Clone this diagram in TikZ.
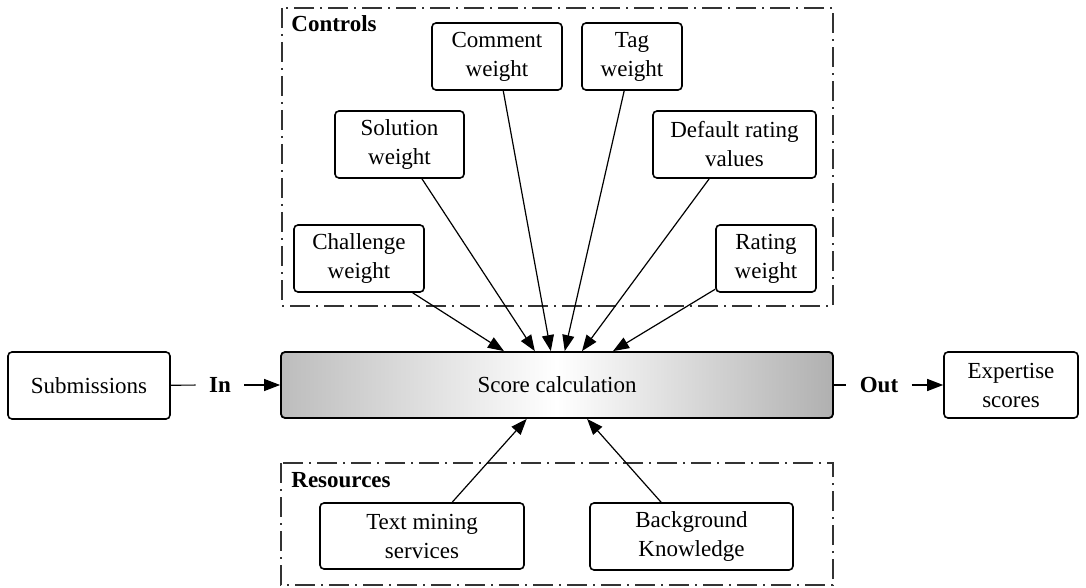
\documentclass[tikz,border=0pt]{standalone}
\usepackage{fontspec}
\setmainfont{Liberation Serif}
\usetikzlibrary{arrows.meta}

\tikzset{
  txt/.style={font=\fontsize{11.5}{14.5}\selectfont},
  box/.style={txt, draw=black, line width=0.8pt, rounded corners=2pt,
    align=center, inner sep=0pt},
  corebox/.style={box, line width=0.9pt, left color=black!26, right color=black!31,
    middle color=white, shading angle=90},
  frame/.style={draw=black!80, line width=0.55pt,
    dash pattern=on 10pt off 3pt on 1pt off 3pt},
  framelabel/.style={txt, font=\fontsize{11.5}{14.5}\selectfont\bfseries, anchor=west, inner sep=0pt},
  flow/.style={draw=black, line width=0.6pt, -{Triangle[length=8pt,width=6pt]}},
  plain/.style={draw=black, line width=0.6pt},
  iolabel/.style={txt, font=\fontsize{11.5}{14.5}\selectfont\bfseries, inner ysep=0pt},
}

\begin{document}
\begin{tikzpicture}[x=0.5pt, y=-0.5pt]
  \useasboundingbox (0,0) rectangle (1086,588);

  % dash-dotted group frames
  \draw[frame] (282,8) rectangle (833,306);
  \draw[frame] (281,463) rectangle (833,585);
  \node[framelabel] (ctrlhead) at (291,24) {Controls};
  \node[framelabel] (reshead) at (291,480) {Resources};

  % central activity
  \node[corebox, minimum width=276pt, minimum height=33pt] (core) at (557,385) {Score calculation};

  % input and output
  \node[box, minimum width=81pt, minimum height=33.5pt] (sub) at (89,385.5) {Submissions};
  \node[box, minimum width=67pt, minimum height=33pt] (exp) at (1011,385) {Expertise\\scores};
  \node[iolabel, inner xsep=6.5pt] (inl) at (220,385) {In};
  \node[iolabel, inner xsep=6.5pt] (outl) at (879,385) {Out};
  \draw[plain] (sub) -- (inl);
  \draw[flow] (inl) -- (core);
  \draw[plain] (core) -- (outl);
  \draw[flow] (outl) -- (exp);

  % controls
  \node[box, minimum width=65pt, minimum height=33.5pt] (comment) at (497,56.5) {Comment\\weight};
  \node[box, minimum width=50pt, minimum height=33.5pt] (tag) at (632,56.5) {Tag\\weight};
  \node[box, minimum width=64.5pt, minimum height=33.5pt] (solution) at (399.5,144.5) {Solution\\weight};
  \node[box, minimum width=81.5pt, minimum height=33.5pt] (default) at (734.5,144.5) {Default rating\\values};
  \node[box, minimum width=65pt, minimum height=33.5pt] (challenge) at (359,258.5) {Challenge\\weight};
  \node[box, minimum width=50pt, minimum height=33.5pt] (rating) at (766,258.5) {Rating\\weight};

  \foreach \src in {challenge, solution, comment, tag, default, rating}
    \draw[flow] (\src) -- (core);

  % resources
  \node[box, minimum width=102pt, minimum height=33pt] (textmining) at (422,536) {Text mining\\services};
  \node[box, minimum width=101.5pt, minimum height=33.5pt] (background) at (691.5,536.5) {Background\\Knowledge};

  \draw[flow] (textmining) -- (core);
  \draw[flow] (background) -- (core);
\end{tikzpicture}
\end{document}
